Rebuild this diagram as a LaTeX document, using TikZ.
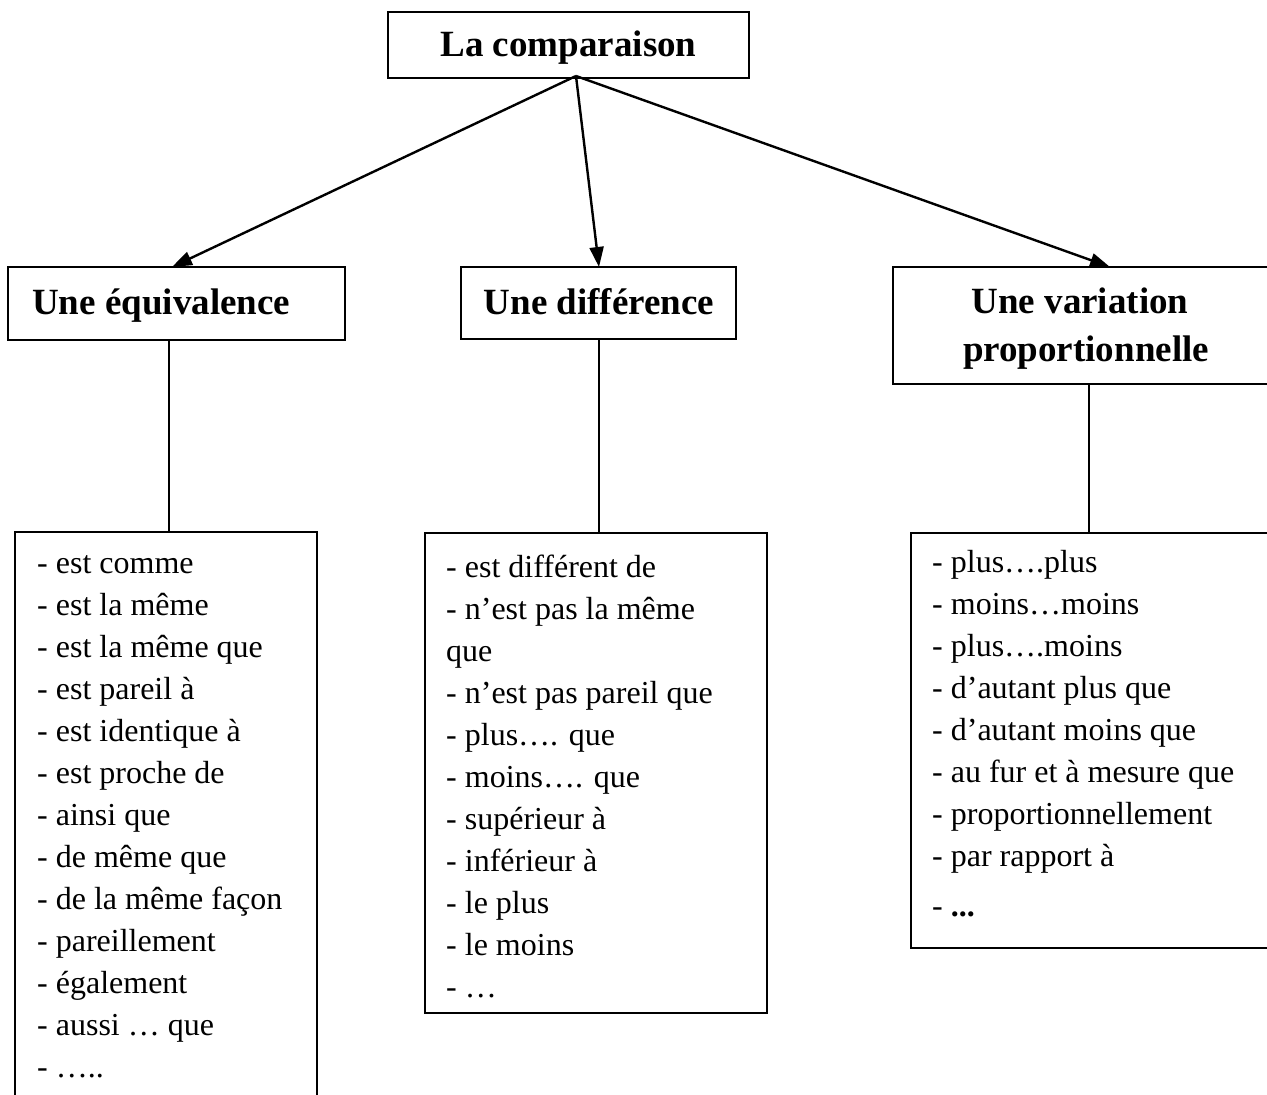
\documentclass[tikz,border=0pt]{standalone}
\usepackage{fontspec}
\setmainfont{Liberation Serif}
\usetikzlibrary{arrows.meta}
\tikzset{
  box/.style={draw, line width=2pt, inner sep=0pt, outer sep=0pt, anchor=north west},
  head/.style={font=\fontsize{37}{48}\selectfont\bfseries, inner sep=0pt, anchor=base},
  listtext/.style={font=\fontsize{32}{42}\selectfont, inner sep=0pt, anchor=north west, align=left},
  arr/.style={line width=2.4pt, -{Triangle[length=20pt,width=14pt]}},
  conn/.style={line width=2pt}
}
\begin{document}
\begin{tikzpicture}[x=1pt,y=-1pt]
\useasboundingbox (0,0) rectangle (1267,1095);
\clip (0,0) rectangle (1267,1095);
\fill[white] (0,0) rectangle (1267,1095);

% title
\node[box, minimum width=361pt, minimum height=66pt] (title) at (388,12) {};
\node[head] (titlet) at (568.5,56) {La comparaison};

% headings
\node[box, minimum width=337pt, minimum height=73pt] (eq) at (8,267) {};
\node[head, anchor=base west] (eqt) at (32,314) {Une équivalence};

\node[box, minimum width=275pt, minimum height=72pt] (dif) at (461,267) {};
\node[head] (dift) at (599,314) {Une différence};

\node[box, minimum width=400pt, minimum height=117pt] (var) at (893,267) {};
\node[head] (vart1) at (1080,313) {Une variation};
\node[head] (vart2) at (1086,361) {proportionnelle};

% lists
\node[box, minimum width=302pt, minimum height=620pt] (eqlist) at (15,532) {};
\node[listtext] (eqlt) at (37,543.6) {\strut- est comme\\
- est la même\\
- est la même que\\
- est pareil à\\
- est identique à\\
- est proche de\\
- ainsi que\\
- de même que\\
- de la même façon\\
- pareillement\\
- également\\
- aussi … que\\
- …..};

\node[box, minimum width=342pt, minimum height=480pt] (diflist) at (425,533) {};
\node[listtext] (diflt) at (446,547.6) {\strut- est différent de\\
- n’est pas la même\\
que\\
- n’est pas pareil que\\
- plus…. que\\
- moins…. que\\
- supérieur à\\
- inférieur à\\
- le plus\\
- le moins\\
- …};

\node[box, minimum width=400pt, minimum height=415pt] (varlist) at (911,533) {};
\node[listtext] (varlt) at (932,543.1) {\strut- plus….plus\\
- moins…moins\\
- plus….moins\\
- d’autant plus que\\
- d’autant moins que\\
- au fur et à mesure que\\
- proportionnellement\\
- par rapport à\\[8pt]
- \textbf{...}};

% connectors
\coordinate (o) at (576,76);
\coordinate (eqin) at (172,267);
\coordinate (difin) at (599,267);
\coordinate (varin) at (1110,267);
\draw[arr] (o) -- (eqin);
\draw[arr] (o) -- (difin);
\draw[arr] (o) -- (varin);

\coordinate (c1) at (169,0);
\coordinate (c2) at (599,0);
\coordinate (c3) at (1089,0);
\draw[conn] (eq.south -| c1) -- (eqlist.north -| c1);
\draw[conn] (dif.south -| c2) -- (diflist.north -| c2);
\draw[conn] (var.south -| c3) -- (varlist.north -| c3);
\end{tikzpicture}
\end{document}
